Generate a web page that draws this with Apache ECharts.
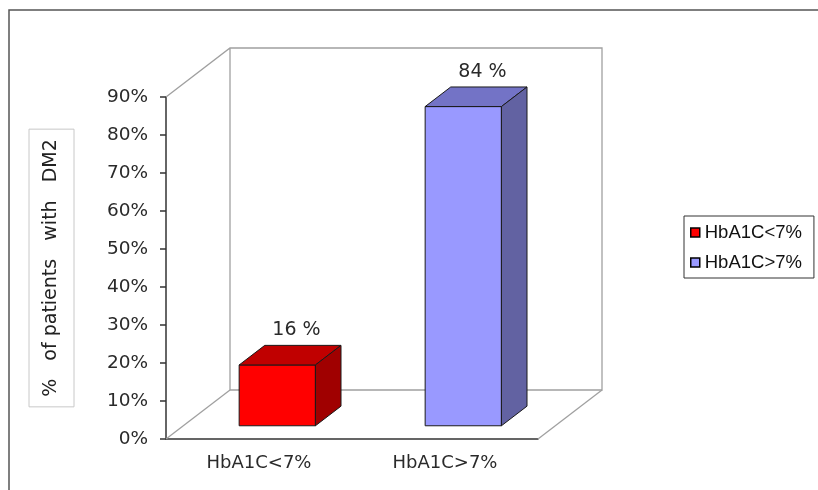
<!DOCTYPE html>
<html>
<head>
<meta charset="utf-8">
<script src="https://cdn.jsdelivr.net/npm/echarts@6/dist/echarts.min.js"></script>
<style>
  html, body { margin: 0; padding: 0; background: #fff; }
  #chart { width: 818px; height: 490px; }
</style>
</head>
<body>
<div id="chart"></div>
<script>
// data
const categories = ["HbA1C<7%", "HbA1C>7%"];
const seriesNames = ["HbA1C<7%", "HbA1C>7%"];
const values = [16, 84];
const yTicks = [0, 90, 10]; // min, max, step

// 3D look
const DX = 64, DY = -49;          // depth of the floor / back wall
const BAR_OFF = 0.27, BAR_DEPTH = 0.4;
const faces = [
  { front: "#FF0000", top: "#C00000", side: "#A00000" },
  { front: "#9999FF", top: "#7373C6", side: "#6262A2" }
];
const FONT = "DejaVu Sans";

const chart = echarts.init(document.getElementById("chart"));

// back wall + floor
function renderWalls(params, api) {
  const cs = params.coordSys;
  const x = cs.x, y = cs.y, r = cs.x + cs.width, b = cs.y + cs.height;
  const st = { stroke: "#A0A0A0", lineWidth: 1.3, fill: null };
  return {
    type: "group",
    children: [
      { type: "polyline", shape: { points: [[x, y], [x + DX, y + DY], [r + DX, y + DY], [r + DX, b + DY], [x + DX, b + DY], [x + DX, y + DY]] }, style: st },
      { type: "line", shape: { x1: x, y1: b, x2: x + DX, y2: b + DY }, style: st },
      { type: "line", shape: { x1: r, y1: b, x2: r + DX, y2: b + DY }, style: st }
    ]
  };
}

function makeBarRenderer(k) {
  const c = faces[k];
  return function (params, api) {
    const idx = api.value(0), v = api.value(1);
    const base = api.coord([idx, 0]);
    const top = api.coord([idx, v]);
    const band = api.size([1, 0])[0];
    const w = band * 0.41;
    const ox = DX * BAR_OFF, oy = DY * BAR_OFF;
    const dx = DX * BAR_DEPTH, dy = DY * BAR_DEPTH;
    const x0 = base[0] - w / 2 + ox + 1, x1 = x0 + w;
    const yb = base[1] + oy, yt = top[1] + oy;
    const edge = { stroke: "#1a1a1a", lineWidth: 1 };
    return {
      type: "group",
      children: [
        { type: "polygon", shape: { points: [[x0, yt], [x1, yt], [x1, yb], [x0, yb]] }, style: Object.assign({ fill: c.front }, edge) },
        { type: "polygon", shape: { points: [[x0, yt], [x0 + dx, yt + dy], [x1 + dx, yt + dy], [x1, yt]] }, style: Object.assign({ fill: c.top }, edge) },
        { type: "polygon", shape: { points: [[x1, yt], [x1 + dx, yt + dy], [x1 + dx, yb + dy], [x1, yb]] }, style: Object.assign({ fill: c.side }, edge) },
        { type: "text", style: { text: v + " %", x: x0 + w / 2 + dx * 0.75, y: yt + dy - 15, align: "center", verticalAlign: "middle", fill: "#2a2a2a", fontSize: 19, fontFamily: FONT } }
      ]
    };
  };
}

const barSeries = seriesNames.map(function (name, k) {
  return {
    name: name,
    type: "custom",
    renderItem: makeBarRenderer(k),
    itemStyle: { color: faces[k].front },
    encode: { x: 0, y: 1 },
    data: [[k, values[k]]],
    z: 3
  };
});

const option = {
  backgroundColor: "#fff",
  animation: false,
  graphic: [
    { type: "polyline", shape: { points: [[9, 490], [9, 10], [818, 10]] }, style: { stroke: "#555", lineWidth: 1.5, fill: null } }
  ],
  grid: { left: 166, top: 97, width: 372, height: 342 },
  legend: {
    data: seriesNames,
    orient: "vertical",
    left: 684,
    top: 216,
    padding: [7, 12, 6, 6],
    itemGap: 11,
    itemWidth: 9,
    itemHeight: 9,
    icon: "rect",
    borderColor: "#333",
    borderWidth: 1,
    itemStyle: { borderColor: "#000", borderWidth: 1.5 },
    textStyle: { fontFamily: "Liberation Sans", fontSize: 18.5, color: "#111" }
  },
  xAxis: {
    type: "category",
    data: categories,
    axisLine: { lineStyle: { color: "#333", width: 1.5 } },
    axisTick: { length: 6, lineStyle: { color: "#333", width: 1.5 } },
    axisLabel: { fontFamily: FONT, fontSize: 18, color: "#2a2a2a", margin: 15 }
  },
  yAxis: {
    type: "value",
    min: yTicks[0],
    max: yTicks[1],
    interval: yTicks[2],
    name: "%   of patients   with   DM2",
    nameLocation: "middle",
    nameRotate: 90,
    nameGap: 92,
    nameTextStyle: {
      fontFamily: FONT, fontSize: 19, color: "#222", lineHeight: 21,
      borderColor: "#c8c8c8", borderWidth: 1, padding: [12, 10, 12, 10]
    },
    splitLine: { show: false },
    axisLine: { show: true, lineStyle: { color: "#333", width: 1.5 } },
    axisTick: { show: true, length: 6, lineStyle: { color: "#333", width: 1.5 } },
    axisLabel: { formatter: "{value}%", fontFamily: FONT, fontSize: 18.5, color: "#2a2a2a", margin: 18 }
  },
  series: [
    { name: "walls", type: "custom", renderItem: renderWalls, data: [[0, 0]], encode: { x: 0, y: 1 }, z: 1, silent: true }
  ].concat(barSeries)
};

chart.setOption(option);
</script>
</body>
</html>
